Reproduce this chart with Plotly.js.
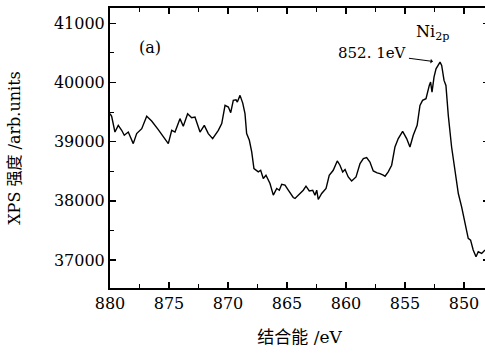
<!DOCTYPE html>
<html><head><meta charset="utf-8">
<script src="https://cdn.plot.ly/plotly-3.0.1.min.js"></script>
<style>html,body{margin:0;padding:0;overflow:hidden;background:#fff;}#chart{width:489px;height:353px;}</style>
</head><body><div id="chart"></div>
<script>
const bindingEnergy = [880.00,879.86,879.58,879.30,879.01,878.79,878.45,878.03,877.74,877.31,876.89,876.47,875.91,875.48,875.06,874.77,874.49,874.07,873.79,873.42,873.08,872.80,872.37,872.01,871.67,871.30,870.82,870.53,870.25,869.97,869.77,869.55,869.32,869.21,868.98,868.75,868.56,868.42,868.19,867.99,867.80,867.43,867.23,867.01,866.78,866.44,866.16,865.87,865.65,865.45,865.17,864.89,864.75,864.47,864.32,864.04,863.62,863.39,863.11,862.82,862.63,862.48,862.35,862.06,861.69,861.42,861.08,860.74,860.51,860.28,860.08,859.81,859.52,859.15,858.81,858.53,858.25,857.97,857.69,857.36,857.12,856.84,856.69,856.42,856.13,855.85,855.57,855.20,854.86,854.58,854.30,853.97,853.73,853.51,853.22,852.94,852.83,852.71,852.54,852.37,852.03,851.89,851.69,851.53,851.33,851.05,850.76,850.48,850.20,849.92,849.64,849.44,849.22,848.98,848.79,848.50,848.22];
const intensity = [39473,39428,39163,39276,39192,39108,39163,38967,39136,39220,39428,39349,39204,39079,38967,39192,39163,39389,39259,39473,39406,39416,39163,39276,39136,39052,39192,39305,39613,39585,39490,39698,39709,39669,39782,39652,39473,39136,39023,38826,38546,38489,38517,38377,38433,38293,38096,38209,38180,38281,38265,38180,38135,38057,38040,38096,38180,38248,38168,38180,38096,38180,38023,38124,38209,38433,38517,38674,38602,38489,38529,38404,38337,38404,38630,38715,38731,38657,38506,38472,38461,38433,38416,38489,38602,38910,39052,39175,39052,38910,39108,39276,39613,39698,39726,39950,40006,39838,40090,40231,40343,40288,40035,39950,39445,38910,38517,38124,37899,37619,37366,37337,37169,37056,37140,37113,37169];
const xTickVals = [880,875,870,865,860,855,850];
const yTickVals = [37000,38000,39000,40000,41000];

const serif = 'DejaVu Serif, Liberation Serif, serif';
const cjk = 'DejaVu Serif, Noto Sans CJK SC, serif';

const data = [{
  x: bindingEnergy, y: intensity, type: 'scatter', mode: 'lines',
  line: {color: '#000', width: 1.4}, hoverinfo: 'skip'
}];

const layout = {
  width: 489, height: 353,
  margin: {l: 110, r: 0, t: 8, b: 65},
  paper_bgcolor: '#fff', plot_bgcolor: '#fff',
  showlegend: false,
  font: {family: serif, color: '#000', size: 16},
  xaxis: {
    range: [880, 847.88], tickvals: xTickVals, ticktext: xTickVals.map(String),
    ticks: 'inside', ticklen: 6, tickwidth: 1.5, tickcolor: '#000',
    minor: {dtick: 2.5, ticks: 'inside', ticklen: 4, tickwidth: 1, tickcolor: '#000'},
    showline: true, linecolor: '#000', linewidth: 2, mirror: 'allticks',
    showgrid: false, zeroline: false,
    tickfont: {family: serif, size: 16, color: '#000'},
    title: {text: '结合能 /eV', font: {family: cjk, size: 17, color: '#000'}, standoff: 19}
  },
  yaxis: {
    range: [36528, 41258], tickvals: yTickVals, ticktext: yTickVals.map(String),
    ticks: 'inside', ticklen: 6, tickwidth: 1.5, tickcolor: '#000',
    minor: {dtick: 500, ticks: 'inside', ticklen: 4, tickwidth: 1, tickcolor: '#000'},
    showline: true, linecolor: '#000', linewidth: 2, mirror: 'allticks',
    showgrid: false, zeroline: false,
    tickfont: {family: serif, size: 16, color: '#000'},
    title: {text: 'XPS 强度 /arb.units', font: {family: cjk, size: 16, color: '#000'}, standoff: 29}
  },
  annotations: [
    {x: 876.6, y: 40591, text: '(a)', showarrow: false, font: {family: serif, size: 16, color: '#000'}},
    {x: 852.71, y: 40844, text: 'Ni<sub>2p</sub>', showarrow: false, font: {family: serif, size: 16, color: '#000'}},
    {x: 852.63, y: 40355, ax: -60, ay: -8, text: '852. 1eV', showarrow: true, arrowhead: 1, arrowsize: 0.8, arrowwidth: 1, arrowcolor: '#000', standoff: 0,
     font: {family: serif, size: 15, color: '#000'}}
  ]
};

Plotly.newPlot('chart', data, layout, {staticPlot: true, displayModeBar: false});
</script></body></html>
